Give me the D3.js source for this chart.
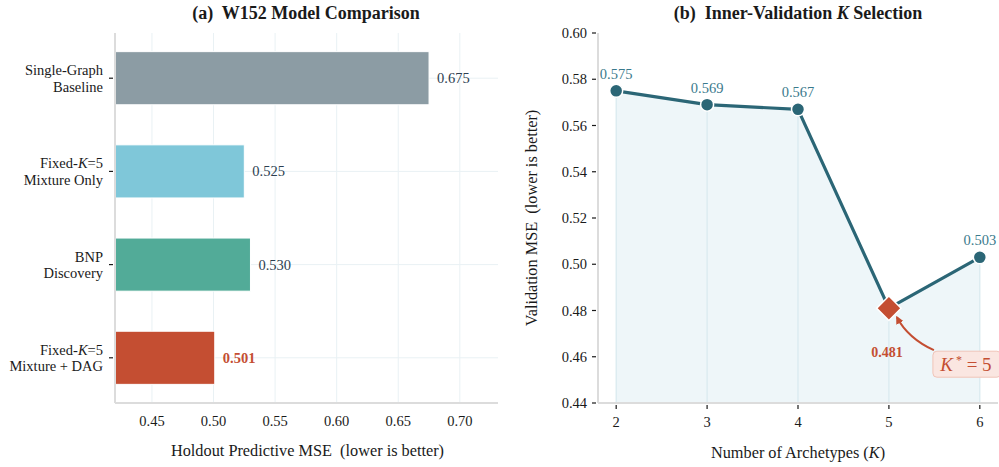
<!DOCTYPE html>
<html>
<head>
<meta charset="utf-8">
<script src="https://cdn.jsdelivr.net/npm/d3@7"></script>
<style>
  body { margin: 0; background: #fff; }
  svg { font-family: "Liberation Serif", "DejaVu Serif", serif; }
</style>
</head>
<body>
<svg width="999" height="467"></svg>
<script>
// panel (a) data
var models = [
  ["Single-Graph", "Baseline"],
  ["Fixed-K=5", "Mixture Only"],
  ["BNP", "Discovery"],
  ["Fixed-K=5", "Mixture + DAG"]
];
var mse = [0.675, 0.525, 0.530, 0.501];
var barColors = ["#8c9ca4", "#7fc7d9", "#52ab98", "#c44e32"];
var xTicksA = [0.45, 0.50, 0.55, 0.60, 0.65, 0.70];

// panel (b) data
var kValues = [2, 3, 4, 5, 6];
var valMse = [0.575, 0.569, 0.567, 0.481, 0.503];
var yTicksB = [0.44, 0.46, 0.48, 0.50, 0.52, 0.54, 0.56, 0.58, 0.60];
var bestK = 5;

var svg = d3.select("svg");
var gridCol = "#e9f1f4", spineCol = "#dcdcdc", ink = "#1a1a1a";
var fs = 14.5;

// ---------- (a) ----------
var a = { left: 115, right: 498, top: 33, bottom: 403 };
var x = d3.scaleLinear().domain([0.42, 0.731]).range([a.left, a.right]);
var y = d3.scaleBand().domain(d3.range(models.length)).range([a.top, a.bottom])
  .paddingInner(0.43).paddingOuter(0.2);

var ga = svg.append("g");
ga.selectAll("line.vg").data(xTicksA).enter().append("line")
  .attr("x1", d => x(d)).attr("x2", d => x(d))
  .attr("y1", a.top).attr("y2", a.bottom)
  .attr("stroke", gridCol).attr("stroke-width", 1);
ga.selectAll("line.hg").data(d3.range(models.length)).enter().append("line")
  .attr("x1", a.left).attr("x2", a.right)
  .attr("y1", d => y(d) + y.bandwidth() / 2).attr("y2", d => y(d) + y.bandwidth() / 2)
  .attr("stroke", gridCol).attr("stroke-width", 1);

ga.selectAll("rect").data(mse).enter().append("rect")
  .attr("x", x(0.42)).attr("y", (d, i) => y(i))
  .attr("width", d => x(d) - x(0.42)).attr("height", y.bandwidth())
  .attr("fill", (d, i) => barColors[i])
  .attr("stroke", "#fff").attr("stroke-width", 1);

ga.selectAll("text.val").data(mse).enter().append("text")
  .attr("x", d => x(d) + 8).attr("y", (d, i) => y(i) + y.bandwidth() / 2)
  .attr("dy", "0.35em").attr("font-size", fs)
  .attr("font-weight", (d, i) => i === 3 ? "bold" : "normal")
  .attr("fill", (d, i) => i === 3 ? "#c44e32" : "#2c3e50")
  .text(d => d.toFixed(3));

// spines
ga.append("line").attr("x1", a.left).attr("x2", a.left).attr("y1", a.top).attr("y2", a.bottom)
  .attr("stroke", spineCol).attr("stroke-width", 2);
ga.append("line").attr("x1", a.left).attr("x2", a.right).attr("y1", a.bottom).attr("y2", a.bottom)
  .attr("stroke", spineCol).attr("stroke-width", 2);

// category labels with italic K
models.forEach(function (lines, i) {
  var cy = y(i) + y.bandwidth() / 2;
  ga.append("line").attr("x1", a.left - 6).attr("x2", a.left - 2)
    .attr("y1", cy).attr("y2", cy).attr("stroke", ink).attr("stroke-width", 1.2);
  lines.forEach(function (s, j) {
    var t = ga.append("text").attr("x", a.left - 12).attr("y", cy + (j === 0 ? -8 : 8.5))
      .attr("dy", "0.35em").attr("text-anchor", "end").attr("font-size", fs).attr("fill", ink);
    if (s.indexOf("K=") >= 0) {
      var parts = s.split("K");
      t.append("tspan").text(parts[0]);
      t.append("tspan").attr("font-style", "italic").text("K");
      t.append("tspan").text(parts[1]);
    } else t.text(s);
  });
});

ga.selectAll("text.xt").data(xTicksA).enter().append("text")
  .attr("x", d => x(d)).attr("y", a.bottom + 18).attr("dy", "0.35em")
  .attr("text-anchor", "middle").attr("font-size", fs).attr("fill", ink)
  .text(d => d.toFixed(2));

ga.append("text").attr("x", (a.left + a.right) / 2 + 1).attr("y", a.bottom + 53)
  .attr("text-anchor", "middle").attr("font-size", 16.3).attr("fill", ink)
  .attr("xml:space", "preserve")
  .text("Holdout Predictive MSE  (lower is better)");

ga.append("text").attr("x", 306).attr("y", 19)
  .attr("text-anchor", "middle").attr("font-size", 18).attr("font-weight", "bold").attr("fill", ink)
  .attr("xml:space", "preserve")
  .text("(a)  W152 Model Comparison");

// ---------- (b) ----------
var b = { left: 598, right: 998, top: 33, bottom: 403 };
var xb = d3.scaleLinear().domain([1.8, 6.2]).range([b.left, b.right]);
var yb = d3.scaleLinear().domain([0.44, 0.60]).range([b.bottom, b.top]);
var pts = kValues.map((k, i) => ({ k: k, v: valMse[i] }));

var gb = svg.append("g");
gb.append("path").datum(pts)
  .attr("d", d3.area().x(d => xb(d.k)).y0(yb(0.44)).y1(d => yb(d.v)))
  .attr("fill", "#eef6f9");
gb.selectAll("line.vl").data(pts).enter().append("line")
  .attr("x1", d => xb(d.k)).attr("x2", d => xb(d.k))
  .attr("y1", d => yb(d.v)).attr("y2", b.bottom)
  .attr("stroke", "#d8e9ef").attr("stroke-width", 1.2);

gb.append("path").datum(pts)
  .attr("d", d3.line().x(d => xb(d.k)).y(d => yb(d.v)))
  .attr("fill", "none").attr("stroke", "#2b6676").attr("stroke-width", 3.2)
  .attr("stroke-linejoin", "round");

gb.selectAll("circle").data(pts.filter(d => d.k !== bestK)).enter().append("circle")
  .attr("cx", d => xb(d.k)).attr("cy", d => yb(d.v)).attr("r", 6.5)
  .attr("fill", "#2b6676").attr("stroke", "#fff").attr("stroke-width", 1.5);

gb.selectAll("text.pl").data(pts.filter(d => d.k !== bestK)).enter().append("text")
  .attr("x", d => xb(d.k)).attr("y", d => yb(d.v) - 12)
  .attr("text-anchor", "middle").attr("font-size", fs).attr("fill", "#3a7a8c")
  .text(d => d.v.toFixed(3));

var best = pts.find(d => d.k === bestK);
var bx = xb(best.k), by = yb(best.v);
gb.append("path")
  .attr("d", d3.symbol().type(d3.symbolSquare).size(300))
  .attr("transform", "translate(" + bx + "," + by + ") rotate(45)")
  .attr("fill", "#c44e32").attr("stroke", "#fff").attr("stroke-width", 1.5);

gb.append("text").attr("x", bx - 2).attr("y", by + 49)
  .attr("text-anchor", "middle").attr("font-size", 14).attr("font-weight", "bold")
  .attr("fill", "#c44e32").text(best.v.toFixed(3));

// annotation arrow and box
var defs = svg.append("defs");
defs.append("marker").attr("id", "ah").attr("viewBox", "0 0 10 10")
  .attr("refX", 8).attr("refY", 5).attr("markerWidth", 4).attr("markerHeight", 4)
  .attr("orient", "auto-start-reverse")
  .append("path").attr("d", "M0,0 L10,5 L0,10 z").attr("fill", "#c44e32");
gb.append("path")
  .attr("d", "M" + (bx + 45) + "," + (by + 42) + " Q" + (bx + 19) + "," + (by + 30) + " " + (bx + 8) + "," + (by + 9))
  .attr("fill", "none").attr("stroke", "#c44e32").attr("stroke-width", 2)
  .attr("marker-end", "url(#ah)");

gb.append("rect").attr("x", bx + 44).attr("y", by + 43).attr("width", 68).attr("height", 26)
  .attr("rx", 4).attr("fill", "#fae6e1").attr("stroke", "#f0c4b8").attr("stroke-width", 1);
var kt = gb.append("text").attr("x", bx + 77).attr("y", by + 56).attr("dy", "0.35em")
  .attr("text-anchor", "middle").attr("font-size", 19).attr("fill", "#c44e32")
  .attr("xml:space", "preserve");
kt.append("tspan").attr("font-style", "italic").text("K");
kt.append("tspan").attr("font-size", 12).attr("dy", "-7").text(" *");
kt.append("tspan").attr("dy", "7").text(" = 5");

// spines & ticks
gb.append("line").attr("x1", b.left).attr("x2", b.left).attr("y1", b.top).attr("y2", b.bottom)
  .attr("stroke", spineCol).attr("stroke-width", 2);
gb.append("line").attr("x1", b.left).attr("x2", b.right).attr("y1", b.bottom).attr("y2", b.bottom)
  .attr("stroke", spineCol).attr("stroke-width", 2);

gb.selectAll("line.yt").data(yTicksB).enter().append("line")
  .attr("x1", b.left - 6).attr("x2", b.left - 2).attr("y1", d => yb(d)).attr("y2", d => yb(d))
  .attr("stroke", ink).attr("stroke-width", 1.2);
gb.selectAll("text.yt").data(yTicksB).enter().append("text")
  .attr("x", b.left - 11).attr("y", d => yb(d)).attr("dy", "0.35em")
  .attr("text-anchor", "end").attr("font-size", fs).attr("fill", ink)
  .text(d => d.toFixed(2));

gb.selectAll("line.xt").data(kValues).enter().append("line")
  .attr("x1", d => xb(d)).attr("x2", d => xb(d)).attr("y1", b.bottom + 2).attr("y2", b.bottom + 6)
  .attr("stroke", ink).attr("stroke-width", 1.2);
gb.selectAll("text.xt").data(kValues).enter().append("text")
  .attr("x", d => xb(d)).attr("y", b.bottom + 19).attr("dy", "0.35em")
  .attr("text-anchor", "middle").attr("font-size", fs).attr("fill", ink)
  .text(d => d);

var xl = gb.append("text").attr("x", (b.left + b.right) / 2).attr("y", b.bottom + 55)
  .attr("text-anchor", "middle").attr("font-size", 16.3).attr("fill", ink);
xl.append("tspan").text("Number of Archetypes (");
xl.append("tspan").attr("font-style", "italic").text("K");
xl.append("tspan").text(")");

gb.append("text").attr("transform", "translate(537," + ((b.top + b.bottom) / 2) + ") rotate(-90)")
  .attr("text-anchor", "middle").attr("font-size", 16.3).attr("fill", ink)
  .attr("xml:space", "preserve")
  .text("Validation MSE  (lower is better)");

var tb = gb.append("text").attr("x", 798).attr("y", 19)
  .attr("text-anchor", "middle").attr("font-size", 18).attr("font-weight", "bold").attr("fill", ink)
  .attr("xml:space", "preserve");
tb.append("tspan").text("(b)  Inner-Validation ");
tb.append("tspan").attr("font-style", "italic").text("K");
tb.append("tspan").text(" Selection");
</script>
</body>
</html>
